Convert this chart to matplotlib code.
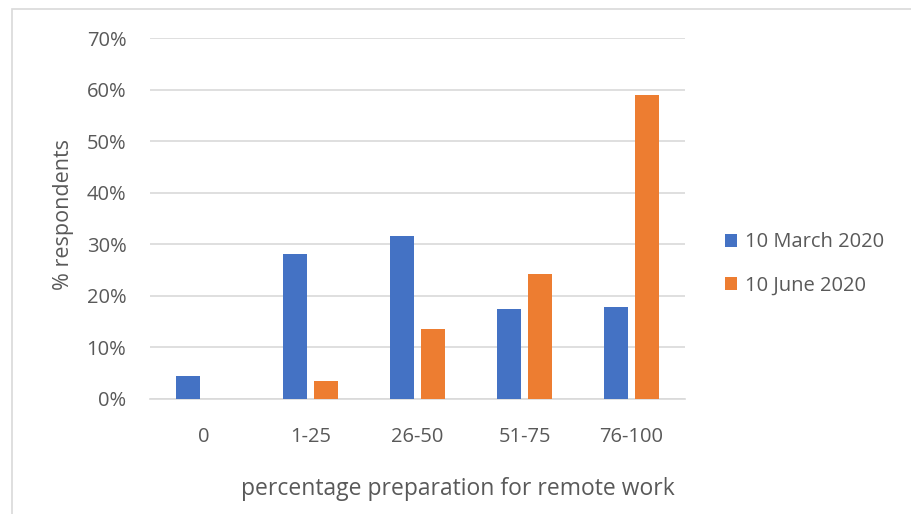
import matplotlib
matplotlib.use("Agg")
import matplotlib.pyplot as plt
from matplotlib.patches import Rectangle
import numpy as np

categories = ["0", "1-25", "26-50", "51-75", "76-100"]
march_2020 = [4.4, 28.2, 31.7, 17.5, 17.8]
june_2020 = [0.0, 3.4, 13.5, 24.2, 59.0]
series_names = ["10 March 2020", "10 June 2020"]
y_ticks = [0, 10, 20, 30, 40, 50, 60, 70]

BLUE = "#4472C4"
ORANGE = "#ED7D31"
TEXT = "#595959"
GRID = "#D9D9D9"

plt.rcParams["font.family"] = ["Open Sans", "DejaVu Sans"]

W, H = 911, 514
fig = plt.figure(figsize=(W / 100, H / 100), dpi=100)

# chart frame
fig.patches.append(Rectangle((12 / W, -0.1), 1.2, (H - 9) / H + 0.1,
                             transform=fig.transFigure, fill=False,
                             edgecolor=GRID, linewidth=1.2))

ax = fig.add_axes([150 / W, 1 - 399 / H, (685 - 150) / W, (399 - 38) / H])

x = np.arange(len(categories))
width = 0.224
offset = 0.142
ax.bar(x - offset, march_2020, width, color=BLUE, label=series_names[0], zorder=3)
ax.bar(x + offset, june_2020, width, color=ORANGE, label=series_names[1], zorder=3)

ax.set_xlim(-0.5, len(categories) - 0.5)
ax.set_ylim(0, 70)
ax.set_yticks(y_ticks)
ax.set_yticklabels([f"{t}%" for t in y_ticks])
ax.set_xticks(x)
ax.set_xticklabels(categories)

ax.grid(axis="y", color=GRID, linewidth=1.2, zorder=0)
for s in ["top", "right", "left"]:
    ax.spines[s].set_visible(False)
ax.spines["bottom"].set_color(GRID)
ax.spines["bottom"].set_linewidth(1.2)
ax.tick_params(axis="both", length=0, labelsize=14.5, colors=TEXT)
ax.tick_params(axis="y", pad=17)
ax.tick_params(axis="x", pad=20)

fig.text(64 / W, 1 - 214 / H, "% respondents", rotation=90, ha="center",
         va="center", fontsize=15.5, color=TEXT)
fig.text(458 / W, 1 - 489 / H, "percentage preparation for remote work",
         ha="center", va="center", fontsize=16.5, color=TEXT)

ax.legend(loc="center left", bbox_to_anchor=(707 / W, 1 - 264 / H),
          bbox_transform=fig.transFigure, frameon=False, fontsize=14.5,
          labelcolor=TEXT, handlelength=0.6, handleheight=0.6,
          handletextpad=0.4, labelspacing=1.15)

fig.savefig("out.png", dpi=100)
